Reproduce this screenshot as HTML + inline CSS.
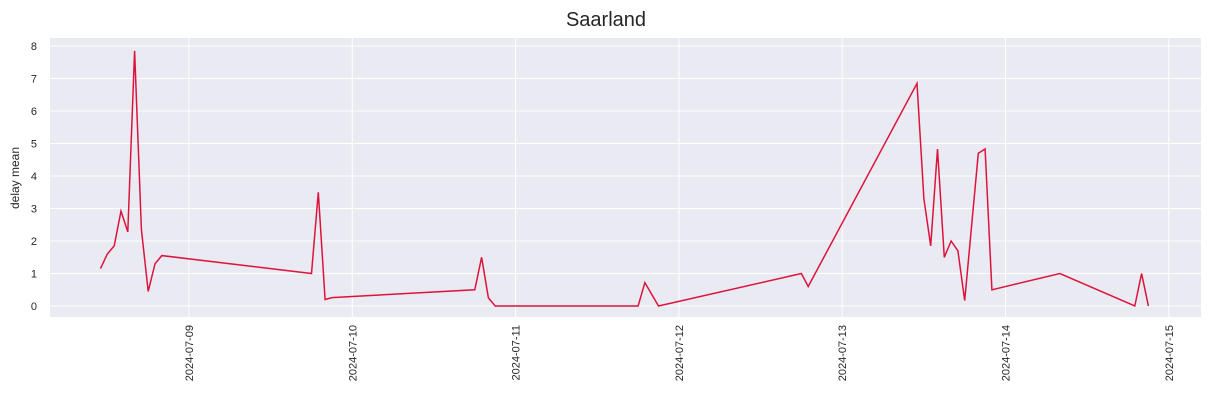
<!DOCTYPE html>
<html><head><meta charset="utf-8"><style>
body{margin:0;background:#fff;}
svg text{font-family:"Liberation Sans",sans-serif;fill:#262626;}
</style></head><body>
<svg width="1211" height="411">
<text x="606" y="26" font-size="20" text-anchor="middle">Saarland</text>
<rect x="50" y="38" width="1151" height="279" fill="#eaeaf2"/>
<g id="grid"></g><g id="ticks"></g>
<text transform="translate(19,178) rotate(-90)" font-size="12" text-anchor="middle">delay mean</text>
<path id="line" fill="none" stroke="#dc143c" stroke-width="1.5"/>
</svg>
<script>
const hours=[-13,-12,-11,-10,-9,-8,-7,-6,-5,-4,18,19,20,21,42,43,44,45,66,67,69,90,91,107,108,109,110,111,112,113,114,116,117,118,128,139,140,141];
const values=[1.15,1.6,1.85,2.92,2.28,7.85,2.35,0.45,1.3,1.55,1.0,3.5,0.2,0.26,0.5,1.5,0.25,0.0,0.0,0.72,0.0,1.0,0.6,6.85,3.3,1.85,4.83,1.5,2.0,1.7,0.17,4.7,4.83,0.5,1.0,0.0,1.0,0.0];
const xTicks=["2024-07-09","2024-07-10","2024-07-11","2024-07-12","2024-07-13","2024-07-14","2024-07-15"];
const yTicks=[0,1,2,3,4,5,6,7,8];
const X=h=>189+h*163.3/24, Y=v=>306-v*32.5;
const ns="http://www.w3.org/2000/svg";
const g=document.getElementById('grid'),t=document.getElementById('ticks');
yTicks.forEach(v=>{
 const l=document.createElementNS(ns,'line');l.setAttribute('x1',50);l.setAttribute('x2',1201);l.setAttribute('y1',Y(v));l.setAttribute('y2',Y(v));l.setAttribute('stroke','#fff');
 
 g.appendChild(l);
 const tx=document.createElementNS(ns,'text');tx.setAttribute('x',37);tx.setAttribute('y',Y(v)+4);tx.setAttribute('font-size','11');tx.setAttribute('text-anchor','end');tx.textContent=v;
 
 t.appendChild(tx);
});
xTicks.forEach((s,i)=>{
 const x=X(24*i);
 const l=document.createElementNS(ns,'line');l.setAttribute('x1',x);l.setAttribute('x2',x);l.setAttribute('y1',38);l.setAttribute('y2',317);l.setAttribute('stroke','#fff');
 
 g.appendChild(l);
 const tx=document.createElementNS(ns,'text');tx.setAttribute('transform',`translate(${x+4},325) rotate(-90)`);tx.setAttribute('font-size','11');tx.setAttribute('text-anchor','end');tx.textContent=s;
 
 t.appendChild(tx);
});
document.getElementById('line').setAttribute('d',hours.map((h,i)=>(i?'L':'M')+X(h).toFixed(1)+' '+Y(values[i]).toFixed(1)).join(' '));
</script>
</body></html>
